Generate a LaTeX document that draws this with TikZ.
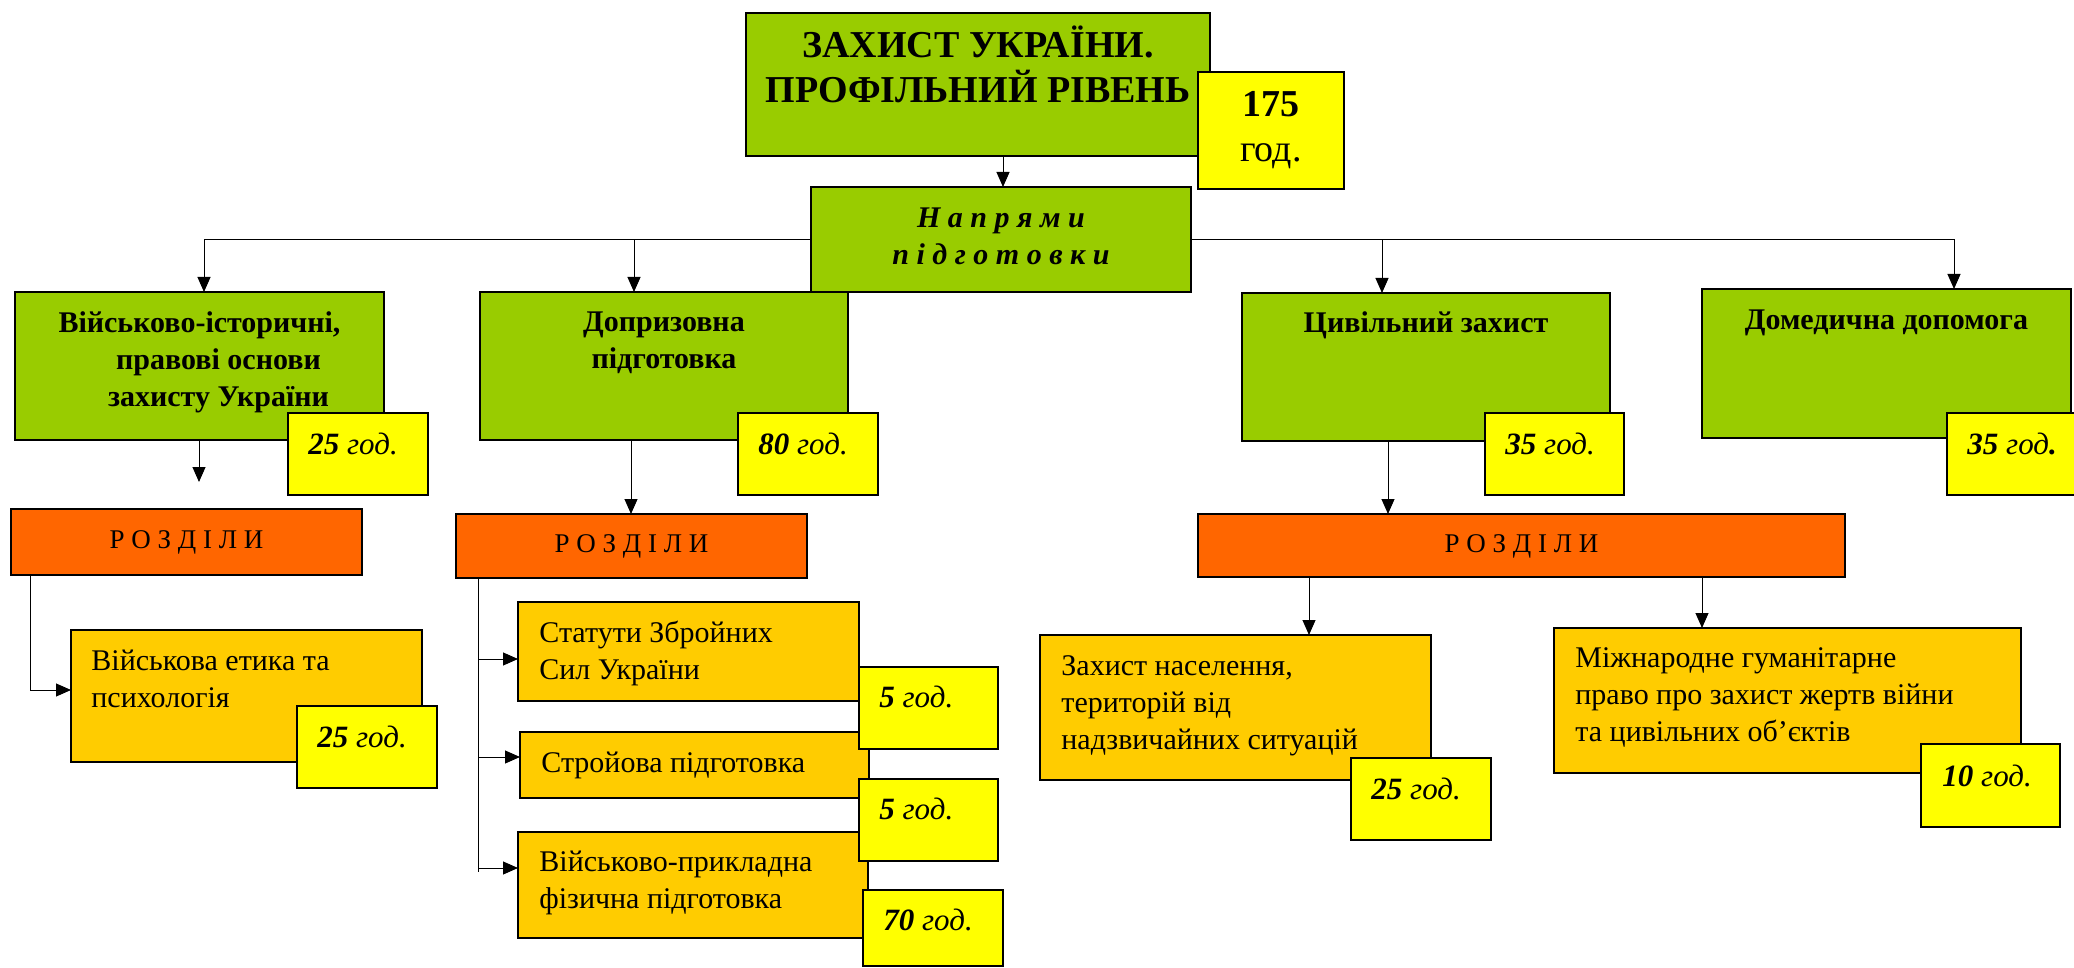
\documentclass[tikz,border=0pt]{standalone}
\usepackage{fontspec}
\setmainfont{Liberation Serif}
\usetikzlibrary{arrows.meta}
\definecolor{gr}{HTML}{99CC00}
\definecolor{yl}{HTML}{FFFF00}
\definecolor{org}{HTML}{FF6600}
\definecolor{gold}{HTML}{FFCC00}
\newcommand\fbody{\fontsize{15}{18.5}\selectfont}
\newcommand\ftitle{\fontsize{19}{21}\selectfont\bfseries}
\newcommand\fhrs{\fontsize{15.5}{18}\selectfont\itshape}
\newcommand\bx[6]{\node[#2,minimum width={(#5-#3)*0.5pt},minimum height={(#6-#4)*0.5pt}] (#1) at (#3,#4) {};}
\newcommand\hr[1]{\textbf{#1} год.}
\tikzset{
  boxbase/.style={draw=black,line width=0.8pt,anchor=north west,inner sep=0pt,outer sep=0pt,rectangle},
  gbox/.style={boxbase,fill=gr},
  obox/.style={boxbase,fill=org},
  dbox/.style={boxbase,fill=gold},
  ybox/.style={boxbase,fill=yl},
  ltxt/.style={inner sep=0pt,anchor=base west,font=\fbody},
  ctxt/.style={inner sep=0pt,anchor=base,font=\fbody},
  htxt/.style={inner sep=0pt,anchor=base west,font=\fhrs},
  arr/.style={line width=0.5pt,-{Triangle[length=7.5pt,width=6.5pt]}},
  ln/.style={line width=0.5pt}
}
\begin{document}
\begin{tikzpicture}[x=0.5pt,y=-0.5pt]
\useasboundingbox (0,0) rectangle (2074,968);
% main boxes
\bx{top}{gbox}{746}{13}{1210}{156}
\bx{nap}{gbox}{811}{187}{1191}{292}
\bx{b1}{gbox}{15}{292}{384}{440}
\bx{b2}{gbox}{480}{292}{848}{440}
\bx{b3}{gbox}{1242}{293}{1610}{441}
\bx{b4}{gbox}{1702}{289}{2071}{438}
\bx{r1}{obox}{11}{509}{362}{575}
\bx{r2}{obox}{456}{514}{807}{578}
\bx{r3}{obox}{1198}{514}{1845}{577}
\bx{e1}{dbox}{71}{630}{422}{762}
\bx{s1}{dbox}{518}{602}{859}{701}
\bx{s2}{dbox}{520}{732}{869}{798}
\bx{s3}{dbox}{518}{832}{868}{938}
\bx{z1}{dbox}{1040}{635}{1431}{780}
\bx{m1}{dbox}{1554}{628}{2021}{773}
% hour boxes
\bx{h0}{ybox}{1198}{72}{1344}{189}
\bx{h1}{ybox}{288}{413}{428}{495}
\bx{h2}{ybox}{738}{413}{878}{495}
\bx{h3}{ybox}{1485}{413}{1624}{495}
\bx{h4}{ybox}{1947}{413}{2080}{495}
\bx{h5}{ybox}{297}{706}{437}{788}
\bx{h6}{ybox}{859}{667}{998}{749}
\bx{h7}{ybox}{859}{779}{998}{861}
\bx{h8}{ybox}{863}{890}{1003}{966}
\bx{h9}{ybox}{1351}{758}{1491}{840}
\bx{h10}{ybox}{1921}{744}{2060}{827}
% texts
\node[ctxt,font=\ftitle] (ttop) at ([shift={(0,45)}]top.north) {\begin{tabular}[t]{@{}c@{}}ЗАХИСТ УКРАЇНИ.\\ПРОФІЛЬНИЙ РІВЕНЬ\end{tabular}};
\node[ctxt,font=\fontsize{19}{22.5}\selectfont] (th0) at ([shift={(0,45)}]h0.north) {\begin{tabular}[t]{@{}c@{}}\textbf{175}\\год.\end{tabular}};
\node[ctxt,font=\fbody\bfseries\itshape] (tnap) at ([shift={(0,41)}]nap.north) {\begin{tabular}[t]{@{}c@{}}Н а п р я м и\\п і д г о т о в к и\end{tabular}};
\node[ctxt,font=\fbody\bfseries] (tb1) at ([shift={(0,41)}]b1.north) {\begin{tabular}[t]{@{}c@{}}Військово-історичні,\\\hspace*{19pt}правові основи\\\hspace*{19pt}захисту України\end{tabular}};
\node[ctxt,font=\fbody\bfseries] (tb2) at ([shift={(0,40)}]b2.north) {\begin{tabular}[t]{@{}c@{}}Допризовна\\підготовка\end{tabular}};
\node[ctxt,font=\fbody\bfseries] (tb3) at ([shift={(0,40)}]b3.north) {Цивільний захист};
\node[ctxt,font=\fbody\bfseries] (tb4) at ([shift={(0,41)}]b4.north) {Домедична допомога};
\node[ctxt,font=\fontsize{13.5}{16}\selectfont] (tr1) at ([shift={(0,39)}]r1.north) {Р О З Д І Л И};
\node[ctxt,font=\fontsize{13.5}{16}\selectfont] (tr2) at ([shift={(0,38)}]r2.north) {Р О З Д І Л И};
\node[ctxt,font=\fontsize{13.5}{16}\selectfont] (tr3) at ([shift={(0,38)}]r3.north) {Р О З Д І Л И};
\node[ltxt] (te1) at ([shift={(20,40)}]e1.north west) {\begin{tabular}[t]{@{}l@{}}Військова етика та\\психологія\end{tabular}};
\node[ltxt] (ts1) at ([shift={(21,40)}]s1.north west) {\begin{tabular}[t]{@{}l@{}}Статути Збройних\\Сил України\end{tabular}};
\node[ltxt] (ts2) at ([shift={(21,40)}]s2.north west) {Стройова підготовка};
\node[ltxt] (ts3) at ([shift={(21,39)}]s3.north west) {\begin{tabular}[t]{@{}l@{}}Військово-прикладна\\фізична підготовка\end{tabular}};
\node[ltxt] (tz1) at ([shift={(21,40)}]z1.north west) {\begin{tabular}[t]{@{}l@{}}Захист населення,\\територій від\\надзвичайних ситуацій\end{tabular}};
\node[ltxt] (tm1) at ([shift={(21,39)}]m1.north west) {\begin{tabular}[t]{@{}l@{}}Міжнародне гуманітарне\\право про захист жертв війни\\та цивільних об’єктів\end{tabular}};
\node[htxt] (th1) at ([shift={(20,41)}]h1.north west) {\hr{25}};
\node[htxt] (th2) at ([shift={(20,41)}]h2.north west) {\hr{80}};
\node[htxt] (th3) at ([shift={(20,41)}]h3.north west) {\hr{35}};
\node[htxt] (th4) at ([shift={(20,41)}]h4.north west) {\textbf{35} год\textbf{.}};
\node[htxt] (th5) at ([shift={(20,41)}]h5.north west) {\hr{25}};
\node[htxt] (th6) at ([shift={(20,40)}]h6.north west) {\hr{5}};
\node[htxt] (th7) at ([shift={(20,40)}]h7.north west) {\hr{5}};
\node[htxt] (th8) at ([shift={(20,40)}]h8.north west) {\hr{70}};
\node[htxt] (th9) at ([shift={(20,41)}]h9.north west) {\hr{25}};
\node[htxt] (th10) at ([shift={(21,42)}]h10.north west) {\hr{10}};
% connector coordinates
\coordinate (c0) at (1003,0);
\coordinate (j1) at (204,0);
\coordinate (j2) at (634,0);
\coordinate (j3) at (1382,0);
\coordinate (j4) at (1954,0);
\coordinate (k1) at (199,482);
\coordinate (k2) at (631,0);
\coordinate (k3) at (1388,0);
\coordinate (k4) at (1309,0);
\coordinate (k5) at (1702,0);
\coordinate (q1) at (30,690);
\coordinate (q2) at (478,872);
\coordinate (p1) at (0,659);
\coordinate (p2) at (0,757);
\coordinate (p3) at (0,868);
% connectors
\draw[arr] (c0 |- top.south) -- (c0 |- nap.north);
\draw[arr] (nap.west) -| (j1 |- b1.north);
\draw[arr] (j2 |- nap.west) -- (j2 |- b2.north);
\draw[arr] (nap.east) -| (j4 |- b4.north);
\draw[arr] (j3 |- nap.east) -- (j3 |- b3.north);
\draw[arr] (k1 |- b1.south) -- (k1);
\draw[arr] (k2 |- b2.south) -- (k2 |- r2.north);
\draw[arr] (k3 |- b3.south) -- (k3 |- r3.north);
\draw[arr] (k4 |- r3.south) -- (k4 |- z1.north);
\draw[arr] (k5 |- r3.south) -- (k5 |- m1.north);
\draw[arr] (q1 |- r1.south) -- (q1) -- (e1.west |- q1);
\draw[ln] (q2 |- r2.south) -- (q2);
\draw[arr] (q2 |- p1) -- (s1.west |- p1);
\draw[arr] (q2 |- p2) -- (s2.west |- p2);
\draw[arr] (q2 |- p3) -- (s3.west |- p3);
\end{tikzpicture}
\end{document}
